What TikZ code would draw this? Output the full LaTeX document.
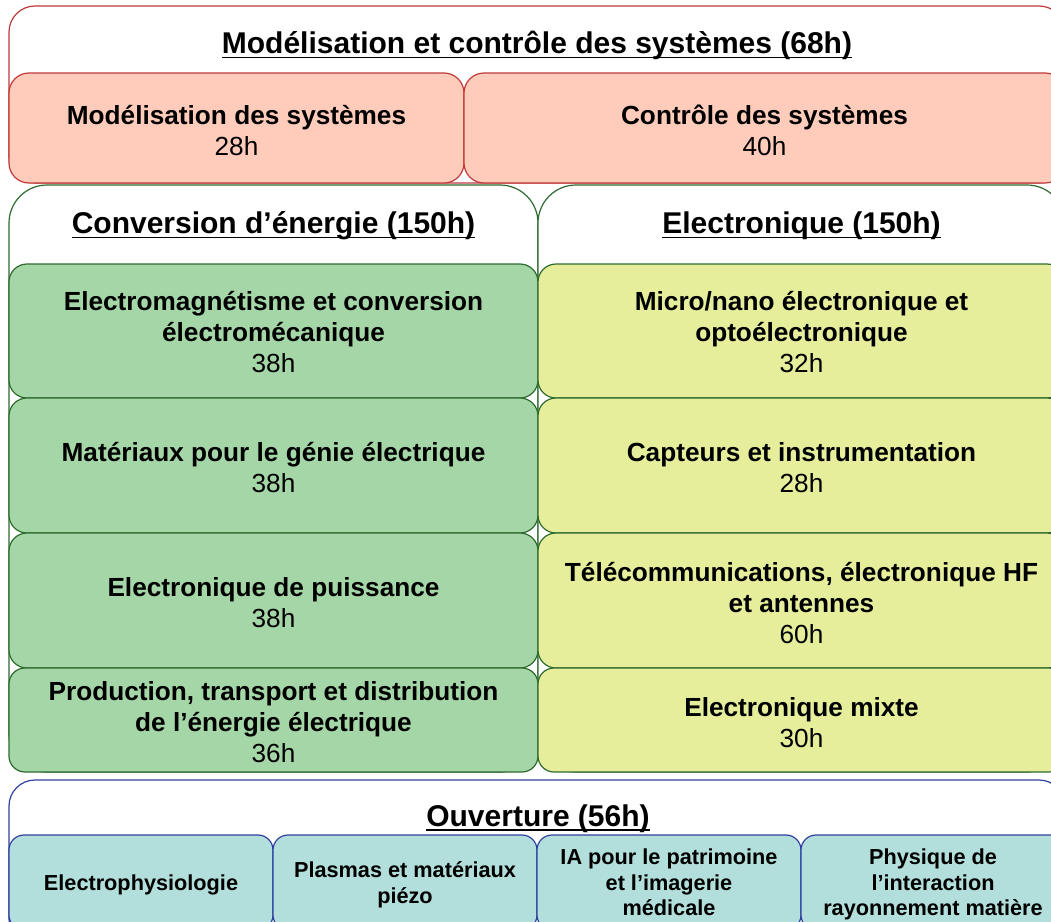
\documentclass[tikz,border=0pt]{standalone}
\usepackage{fontspec}
\setmainfont{Liberation Sans}
\definecolor{redfill}{HTML}{FFCCBC}
\definecolor{redline}{HTML}{C0393B}
\definecolor{greenfill}{HTML}{A5D6A7}
\definecolor{greenline}{HTML}{2E6B2E}
\definecolor{limefill}{HTML}{E6EE9C}
\definecolor{tealfill}{HTML}{B2DFDB}
\definecolor{blueline}{HTML}{3040A0}
\newcommand\bodyf{\fontsize{26.2}{31}\selectfont}
\newcommand\titf{\fontsize{30}{36}\selectfont\bfseries}
\newcommand\smallf{\fontsize{21.7}{25.5}\selectfont\bfseries}
\tikzset{
  redouter/.style={draw=redline, fill=white, line width=1.2pt, rounded corners=26pt},
  redbox/.style={draw=redline, fill=redfill, line width=1.2pt, rounded corners=20pt},
  greenouter/.style={draw=greenline, fill=white, line width=1.2pt, rounded corners=38pt},
  greenbox/.style={draw=greenline, fill=greenfill, line width=1.2pt, rounded corners=18pt},
  limebox/.style={draw=greenline, fill=limefill, line width=1.2pt, rounded corners=18pt},
  blueouter/.style={draw=blueline, fill=white, line width=1.2pt, rounded corners=26pt},
  tealbox/.style={draw=blueline, fill=tealfill, line width=1.2pt, rounded corners=15pt},
  titletext/.style={inner sep=0pt, outer sep=0pt, anchor=base, font=\titf},
  uline/.style={line width=1.8pt, black},
  bodytext/.style={inner sep=0pt, outer sep=0pt, anchor=north, align=center, font=\bodyf},
  smalltext/.style={inner sep=0pt, outer sep=0pt, anchor=north, align=center, font=\smallf},
}
\begin{document}
\begin{tikzpicture}[x=1pt, y=-1pt]
\useasboundingbox (0,0) rectangle (1051,921);
\clip (0,0) rectangle (1051,921);
\fill[white] (0,0) rectangle (1051,921);
% Modelisation et controle
\draw[redouter] (9,6) rectangle (1065,183);
\draw[redbox] (9,73) rectangle (464,183);
\draw[redbox] (464,73) rectangle (1065,183);
\node[titletext] (t1) at (537,53.5) {Modélisation et contrôle des systèmes (68h)};
\draw[uline] ([yshift=-4pt]t1.base west) -- ([yshift=-4pt]t1.base east);
\node[bodytext] (m1) at (236.5,102.3) {\textbf{\strut Modélisation des systèmes}\\28h};
\node[bodytext] (m2) at (764.5,102.3) {\textbf{\strut Contrôle des systèmes}\\40h};
% Conversion d'energie
\draw[greenouter] (9,185) rectangle (538,772);
\draw[greenouter] (538,185) rectangle (1065,772);
\node[titletext] (t2) at (273.5,233.5) {Conversion d’énergie (150h)};
\draw[uline] ([yshift=-4pt]t2.base west) -- ([yshift=-4pt]t2.base east);
\node[titletext] (t3) at (801.5,233.5) {Electronique (150h)};
\draw[uline] ([yshift=-4pt]t3.base west) -- ([yshift=-4pt]t3.base east);
\draw[greenbox] (9,264) rectangle (538,398);
\draw[greenbox] (9,398) rectangle (538,533);
\draw[greenbox] (9,533) rectangle (538,668);
\draw[greenbox, rounded corners=16pt] (9,668) rectangle (538,772);
\draw[limebox] (538,264) rectangle (1065,398);
\draw[limebox] (538,398) rectangle (1065,533);
\draw[limebox] (538,533) rectangle (1065,668);
\draw[limebox, rounded corners=16pt] (538,668) rectangle (1065,772);
\node[bodytext] (c1) at (273.5,288.3) {\textbf{\strut Electromagnétisme et conversion}\\\textbf{électromécanique}\\38h};
\node[bodytext] (c2) at (273.5,439.3) {\textbf{\strut Matériaux pour le génie électrique}\\38h};
\node[bodytext] (c3) at (273.5,574.3) {\textbf{\strut Electronique de puissance}\\38h};
\node[bodytext] (c4) at (273.5,678.3) {\textbf{\strut Production, transport et distribution}\\\textbf{de l’énergie électrique}\\36h};
\node[bodytext] (e1) at (801.5,288.3) {\textbf{\strut Micro/nano électronique et}\\\textbf{optoélectronique}\\32h};
\node[bodytext] (e2) at (801.5,439.3) {\textbf{\strut Capteurs et instrumentation}\\28h};
\node[bodytext] (e3) at (801.5,559.3) {\textbf{\strut Télécommunications, électronique HF}\\\textbf{et antennes}\\60h};
\node[bodytext] (e4) at (801.5,694.3) {\textbf{\strut Electronique mixte}\\30h};
% Ouverture
\draw[blueouter] (9,780) rectangle (1065,945);
\draw[tealbox] (9,835) rectangle (273,930);
\draw[tealbox] (273,835) rectangle (537,930);
\draw[tealbox] (537,835) rectangle (801,930);
\draw[tealbox] (801,835) rectangle (1065,930);
\node[titletext] (t4) at (538,826) {Ouverture (56h)};
\draw[uline] ([yshift=-4pt]t4.base west) -- ([yshift=-4pt]t4.base east);
\node[smalltext] (o1) at (141,873) {\strut Electrophysiologie};
\node[smalltext] (o2) at (405,860) {\strut Plasmas et matériaux\\piézo};
\node[smalltext] (o3) at (669,847) {\strut IA pour le patrimoine\\et l’imagerie\\médicale};
\node[smalltext] (o4) at (933,847) {\strut Physique de\\l’interaction\\rayonnement matière};
\end{tikzpicture}
\end{document}
